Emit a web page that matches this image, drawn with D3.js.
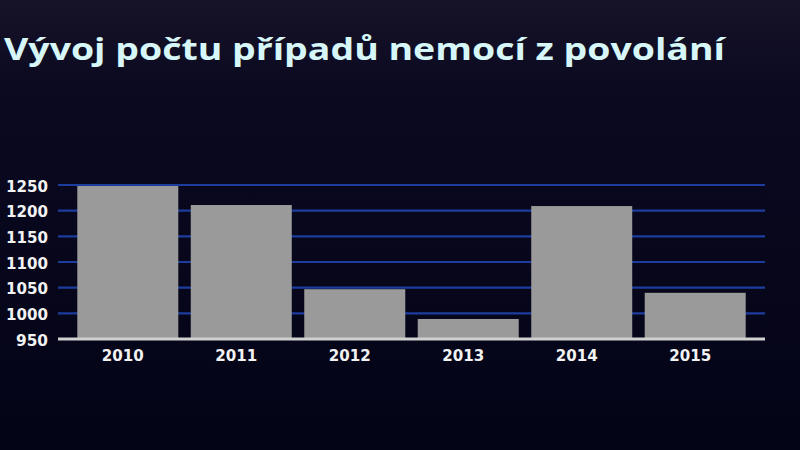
<!DOCTYPE html>
<html><head><meta charset="utf-8">
<script src="https://cdn.jsdelivr.net/npm/d3@7"></script>
<style>html,body{margin:0;padding:0;background:#05061a;}svg{display:block;}</style>
</head><body>
<svg id="c" width="800" height="450"></svg>
<script>
const title = "Vývoj počtu případů nemocí z povolání";
const categories = ["2010","2011","2012","2013","2014","2015"];
const values = [1248, 1211, 1047, 989, 1209, 1040];
const yTicks = [950,1000,1050,1100,1150,1200,1250];

const svg = d3.select("#c");
const W = 800, H = 450;
const defs = svg.append("defs");
const bg = defs.append("linearGradient").attr("id","bg").attr("x1",0).attr("y1",0).attr("x2",0).attr("y2",1);
bg.append("stop").attr("offset","0").attr("stop-color","#161228");
bg.append("stop").attr("offset","0.22").attr("stop-color","#0a0920");
bg.append("stop").attr("offset","1").attr("stop-color","#040417");
svg.append("rect").attr("width",W).attr("height",H).attr("fill","url(#bg)");

const x = d3.scaleBand().domain(categories).range([58,765]).paddingInner(0.11).paddingOuter(0.17);
const y = d3.scaleLinear().domain([950,1250]).range([339,185]);

// gridlines
svg.append("g").selectAll("line").data(yTicks.filter(d=>d>950)).join("line")
  .attr("x1",58).attr("x2",765).attr("y1",d=>y(d)).attr("y2",d=>y(d))
  .attr("stroke","#1d3d9e").attr("stroke-width",2.2);

// bars
svg.append("g").selectAll("rect").data(values).join("rect")
  .attr("x",(d,i)=>x(categories[i])).attr("width",x.bandwidth())
  .attr("y",d=>y(d)).attr("height",d=>y(950)-y(d))
  .attr("fill","#9a9a9a");

// baseline
svg.append("line").attr("x1",58).attr("x2",765).attr("y1",y(950)).attr("y2",y(950))
  .attr("stroke","#d0d0d0").attr("stroke-width",3);

// y axis labels
const yAxis = d3.axisLeft(y).tickValues(yTicks).tickFormat(d3.format("d")).tickSize(0).tickPadding(0);
const gy = svg.append("g").attr("transform","translate(48,0)").call(yAxis);
gy.select(".domain").remove();
gy.selectAll("text").attr("fill","#f2f2f2").attr("font-family","DejaVu Sans").attr("font-weight","bold").attr("font-size","15px").attr("dy","0.42em")
  .attr("textLength",42).attr("lengthAdjust","spacingAndGlyphs");
gy.selectAll(".tick").filter(d=>d===950).select("text").attr("textLength",32);

// x axis labels
const xAxis = d3.axisBottom(x).tickSize(0).tickPadding(0);
const gx = svg.append("g").attr("transform","translate(-5,350)").call(xAxis);
gx.select(".domain").remove();
gx.selectAll("text").attr("fill","#f2f2f2").attr("font-family","DejaVu Sans").attr("font-weight","bold").attr("font-size","16px").attr("dy","0.71em")
  .attr("textLength",42).attr("lengthAdjust","spacingAndGlyphs");

// title
svg.append("text").attr("x",4).attr("y",60).text(title)
  .attr("fill","#d6f6f8").attr("font-family","Open Sans").attr("font-weight","700")
  .attr("font-size","31px").attr("textLength",721).attr("lengthAdjust","spacingAndGlyphs");
</script>
</body></html>
